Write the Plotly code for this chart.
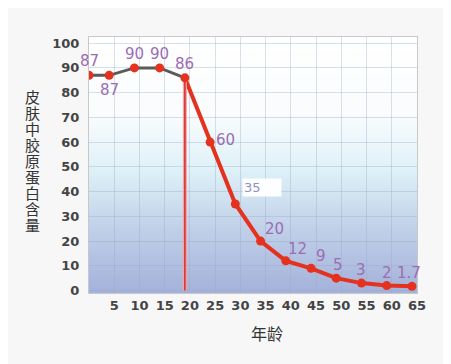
import base64, struct, zlib
import plotly.graph_objects as go

# ---- data ----
ages = [0, 4, 9, 14, 19, 24, 29, 34, 39, 44, 49, 54, 59, 64]
collagen = [87, 87, 90, 90, 86, 60, 35, 20, 12, 9, 5, 3, 2, 1.7]
labels = ["87", "87", "90", "90", "86", "60", "35", "20", "12", "9", "5", "3", "2", "1.7"]
x_ticks = [5, 10, 15, 20, 25, 30, 35, 40, 45, 50, 55, 60, 65]
y_ticks = [0, 10, 20, 30, 40, 50, 60, 70, 80, 90, 100]
split_age = 19
y_title = "皮肤中胶原蛋白含量"
x_title = "年龄"

# ---- gradient background image (PNG data URI) ----
def lerp(c1, c2, t):
    return tuple(int(round(a + (b - a) * t)) for a, b in zip(c1, c2))

stops = [(0.0, (255, 255, 255)), (0.30, (250, 252, 253)), (0.52, (222, 241, 248)),
         (0.72, (196, 212, 234)), (1.0, (164, 177, 218))]
H = 256
rows = b""
for i in range(H):
    t = i / (H - 1)
    for j in range(len(stops) - 1):
        if stops[j][0] <= t <= stops[j + 1][0]:
            u = (t - stops[j][0]) / (stops[j + 1][0] - stops[j][0])
            c = lerp(stops[j][1], stops[j + 1][1], u)
            break
    rows += b"\x00" + bytes(c)

def chunk(tag, data):
    return struct.pack(">I", len(data)) + tag + data + struct.pack(">I", zlib.crc32(tag + data) & 0xffffffff)

png = b"\x89PNG\r\n\x1a\n" + chunk(b"IHDR", struct.pack(">IIBBBBB", 1, H, 8, 2, 0, 0, 0)) \
    + chunk(b"IDAT", zlib.compress(rows)) + chunk(b"IEND", b"")
img_uri = "data:image/png;base64," + base64.b64encode(png).decode()

fig = go.Figure()

k = ages.index(split_age)
fig.add_trace(go.Scatter(x=ages[:k + 1], y=collagen[:k + 1], mode="lines",
                         line=dict(color="#5a5a5a", width=3), hoverinfo="skip"))
fig.add_trace(go.Scatter(x=ages[k:], y=collagen[k:], mode="lines",
                         line=dict(color="#e4321f", width=4), hoverinfo="skip"))
fig.add_trace(go.Scatter(x=[split_age, split_age], y=[0, collagen[k]], mode="lines",
                         line=dict(color="#f2a5a5", width=4), hoverinfo="skip"))
fig.add_trace(go.Scatter(x=[split_age, split_age], y=[0, collagen[k]], mode="lines",
                         line=dict(color="#dd2a2a", width=1.5), hoverinfo="skip"))
fig.add_trace(go.Scatter(x=ages, y=collagen, mode="markers",
                         marker=dict(color="#e4321f", size=9), hoverinfo="skip"))

# data labels (pixel offsets: right, down)
offsets = [(0, -14), (0, 15), (0, -14), (0, -14), (0, -14), (15, -2), (0, 0),
           (14, -12), (12, -12), (10, -12), (2, -13), (0, -13), (0, -13), (-3, -13)]
for i, (a, v, lab) in enumerate(zip(ages, collagen, labels)):
    dx, dy = offsets[i]
    if lab == "35":
        fig.add_annotation(x=a, y=v, text="35", showarrow=False, xanchor="left",
                           xshift=7, yshift=16, width=36, align="left",
                           bgcolor="rgba(255,255,255,0.95)",
                           font=dict(color="#8f8fc0", size=13, family="DejaVu Sans"))
        continue
    fig.add_annotation(x=a, y=v, text=lab, showarrow=False, xshift=dx, yshift=-dy,
                       font=dict(color="#9a6db4", size=15, family="DejaVu Sans"))

# page offset (body margin) of the rendered figure
OFF = 8
W, Hh = 451 - OFF, 364 - OFF
ml, mr, mt, mb = 89 - OFF, 34, 37 - OFF, 71
pw, ph = W - ml - mr, Hh - mt - mb

def px_to_paper(sx, sy):
    return (sx - OFF - ml) / pw, 1 - (sy - OFF - mt) / ph

# axis titles (screen pixel positions)
for i, ch in enumerate(y_title):
    px, py = px_to_paper(33, 96 + i * 16)
    fig.add_annotation(x=px, y=py, xref="paper", yref="paper", text=ch, showarrow=False,
                       xanchor="center", yanchor="middle",
                       font=dict(size=15, color="#333", family="Noto Sans CJK SC"))
px, py = px_to_paper(267, 333)
fig.add_annotation(x=px, y=py, xref="paper", yref="paper", text=x_title,
                   showarrow=False, xanchor="center", yanchor="middle",
                   font=dict(size=16, color="#333", family="Noto Sans CJK SC"))

fig.add_layout_image(source=img_uri, xref="x domain", yref="y domain", x=0, y=1,
                     sizex=1, sizey=1, xanchor="left", yanchor="top",
                     sizing="stretch", layer="below")

fig.update_layout(
    width=W, height=Hh, margin=dict(l=ml, r=mr, t=mt, b=mb),
    paper_bgcolor="#f7f7f7", plot_bgcolor="#ffffff", showlegend=False,
    xaxis=dict(range=[0, 65], tickvals=x_ticks, ticktext=[str(t) for t in x_ticks],
               showgrid=True, gridcolor="rgba(150,165,195,0.35)", gridwidth=1,
               zeroline=False, showline=True, linecolor="#c8c8c8", mirror=True,
               ticks="", ticklabelstandoff=0,
               tickfont=dict(size=13, color="#444", family="DejaVu Sans", weight="bold"),
               fixedrange=True),
    yaxis=dict(range=[-1, 102.5], tickvals=y_ticks, ticktext=[str(t) for t in y_ticks],
               showgrid=True, gridcolor="rgba(150,165,195,0.35)", gridwidth=1,
               zeroline=False, showline=True, linecolor="#c8c8c8", mirror=True,
               ticks="", ticklabelstandoff=6,
               tickfont=dict(size=13, color="#444", family="DejaVu Sans", weight="bold"),
               fixedrange=True),
)
fig.write_html("out.html")
